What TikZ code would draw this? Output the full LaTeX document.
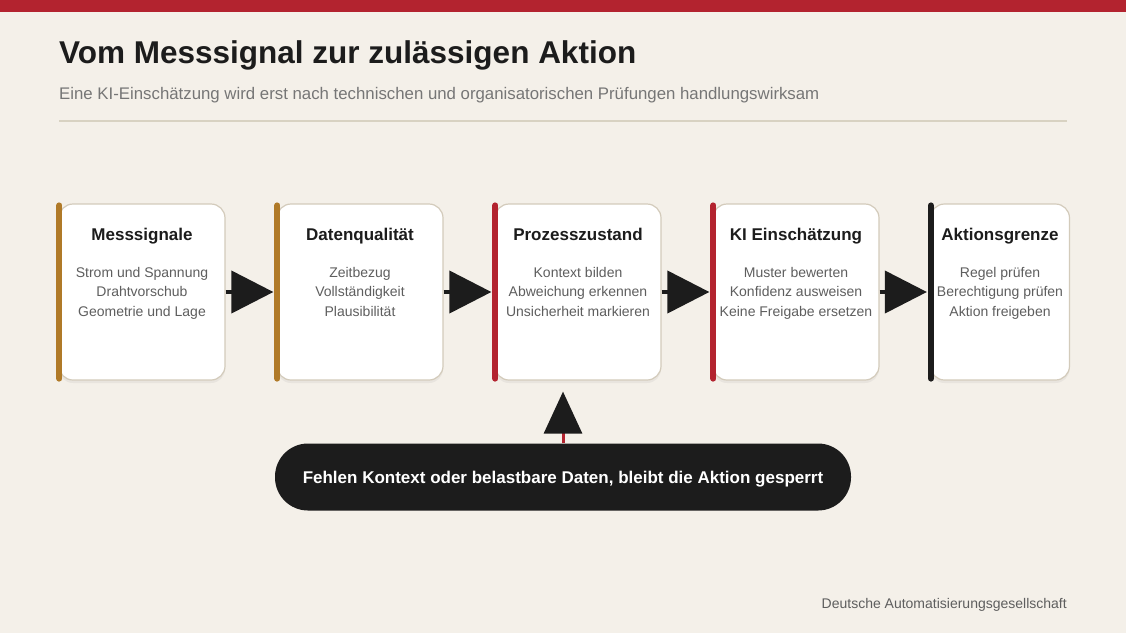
\documentclass[tikz,border=0pt]{standalone}
\usepackage{fontspec}
\setmainfont{Liberation Sans}
\usetikzlibrary{arrows.meta,shadows}

\definecolor{pagebg}{HTML}{F4F0E9}
\definecolor{topred}{HTML}{B3232F}
\definecolor{gold}{HTML}{B07A28}
\definecolor{boxline}{HTML}{D3CBBB}
\definecolor{ink}{HTML}{1C1C1C}
\definecolor{greytext}{HTML}{5E5E5E}
\definecolor{rulecol}{HTML}{D8D2C2}

\begin{document}
\begin{tikzpicture}[x=1pt,y=-1pt,
  stage/.style={draw=boxline, line width=1.2pt, fill=white, rounded corners=14pt,
    minimum width=166pt, minimum height=176pt, inner sep=0pt,
    drop shadow={opacity=0.10, shadow xshift=0pt, shadow yshift=-3pt}},
  stagetitle/.style={font=\fontsize{17}{20}\selectfont\bfseries, text=ink, anchor=base, inner sep=0pt},
  stagebody/.style={font=\fontsize{14}{19.5}\selectfont, text=greytext, align=center},
  bar/.style={line width=6pt, line cap=round},
  flow/.style={ink, line width=4pt, shorten >=3pt, -{Triangle[length=42pt,width=42pt]}}]

% page
\fill[pagebg] (0,0) rectangle (1126,633);
\fill[topred] (0,0) rectangle (1126,12);

% heading
\node[anchor=base west, inner sep=0pt, text=ink, font=\fontsize{31.5}{38}\selectfont\bfseries]
  (title) at (59,63) {Vom Messsignal zur zulässigen Aktion};
\node[anchor=base west, inner sep=0pt, text=greytext!85, font=\fontsize{16.8}{20}\selectfont]
  (subtitle) at (59,99) {Eine KI-Einschätzung wird erst nach technischen und organisatorischen Prüfungen handlungswirksam};
\draw[rulecol, line width=1.2pt] (59,121) -- (1067,121);

% stages
\node[stage] (mess) at (142,292) {};
\node[stage] (daten) at (360,292) {};
\node[stage] (prozess) at (578,292) {};
\node[stage] (ki) at (796,292) {};
\node[stage, minimum width=139pt] (aktion) at (1000,292) {};

\draw[bar, gold] ([xshift=1pt,yshift=-2pt]mess.north west) -- ([xshift=1pt,yshift=2pt]mess.south west);
\draw[bar, gold] ([xshift=1pt,yshift=-2pt]daten.north west) -- ([xshift=1pt,yshift=2pt]daten.south west);
\draw[bar, topred] ([xshift=1pt,yshift=-2pt]prozess.north west) -- ([xshift=1pt,yshift=2pt]prozess.south west);
\draw[bar, topred] ([xshift=1pt,yshift=-2pt]ki.north west) -- ([xshift=1pt,yshift=2pt]ki.south west);
\draw[bar, ink] ([xshift=1pt,yshift=-2pt]aktion.north west) -- ([xshift=1pt,yshift=2pt]aktion.south west);

\node[stagetitle] (messT) at ([yshift=-37pt]mess.north) {Messsignale};
\node[stagebody, anchor=north] (messB) at ([yshift=-60pt]mess.north)
  {Strom und Spannung\\Drahtvorschub\\Geometrie und Lage};
\node[stagetitle] (datenT) at ([yshift=-37pt]daten.north) {Datenqualität};
\node[stagebody, anchor=north] (datenB) at ([yshift=-60pt]daten.north)
  {Zeitbezug\\Vollständigkeit\\Plausibilität};
\node[stagetitle] (prozessT) at ([yshift=-37pt]prozess.north) {Prozesszustand};
\node[stagebody, anchor=north] (prozessB) at ([yshift=-60pt]prozess.north)
  {Kontext bilden\\Abweichung erkennen\\Unsicherheit markieren};
\node[stagetitle] (kiT) at ([yshift=-37pt]ki.north) {KI Einschätzung};
\node[stagebody, anchor=north] (kiB) at ([yshift=-60pt]ki.north)
  {Muster bewerten\\Konfidenz ausweisen\\Keine Freigabe ersetzen};
\node[stagetitle] (aktionT) at ([yshift=-37pt]aktion.north) {Aktionsgrenze};
\node[stagebody, anchor=north] (aktionB) at ([yshift=-60pt]aktion.north)
  {Regel prüfen\\Berechtigung prüfen\\Aktion freigeben};

% flow arrows
\draw[flow] (mess.east) -- (daten.west);
\draw[flow] (daten.east) -- (prozess.west);
\draw[flow] (prozess.east) -- (ki.west);
\draw[flow] (ki.east) -- (aktion.west);

% blocking note
\node[fill=ink, rounded corners=33pt, minimum width=576pt, minimum height=67pt,
  text=white, text depth=0pt, font=\fontsize{17}{20}\selectfont\bfseries]
  (sperre) at (563,477) {Fehlen Kontext oder belastbare Daten, bleibt die Aktion gesperrt};
\coordinate (ziel) at (prozess.south -| sperre.north);
\draw[topred, line width=3pt, shorten >=7pt,
  -{Triangle[length=42pt,width=38pt,color=ink,sep=4pt]}] (sperre.north) -- (ziel);

% footer
\node[anchor=base east, inner sep=0pt, text=greytext, font=\fontsize{14}{16}\selectfont]
  (quelle) at (1067,608) {Deutsche Automatisierungsgesellschaft};

\end{tikzpicture}
\end{document}
